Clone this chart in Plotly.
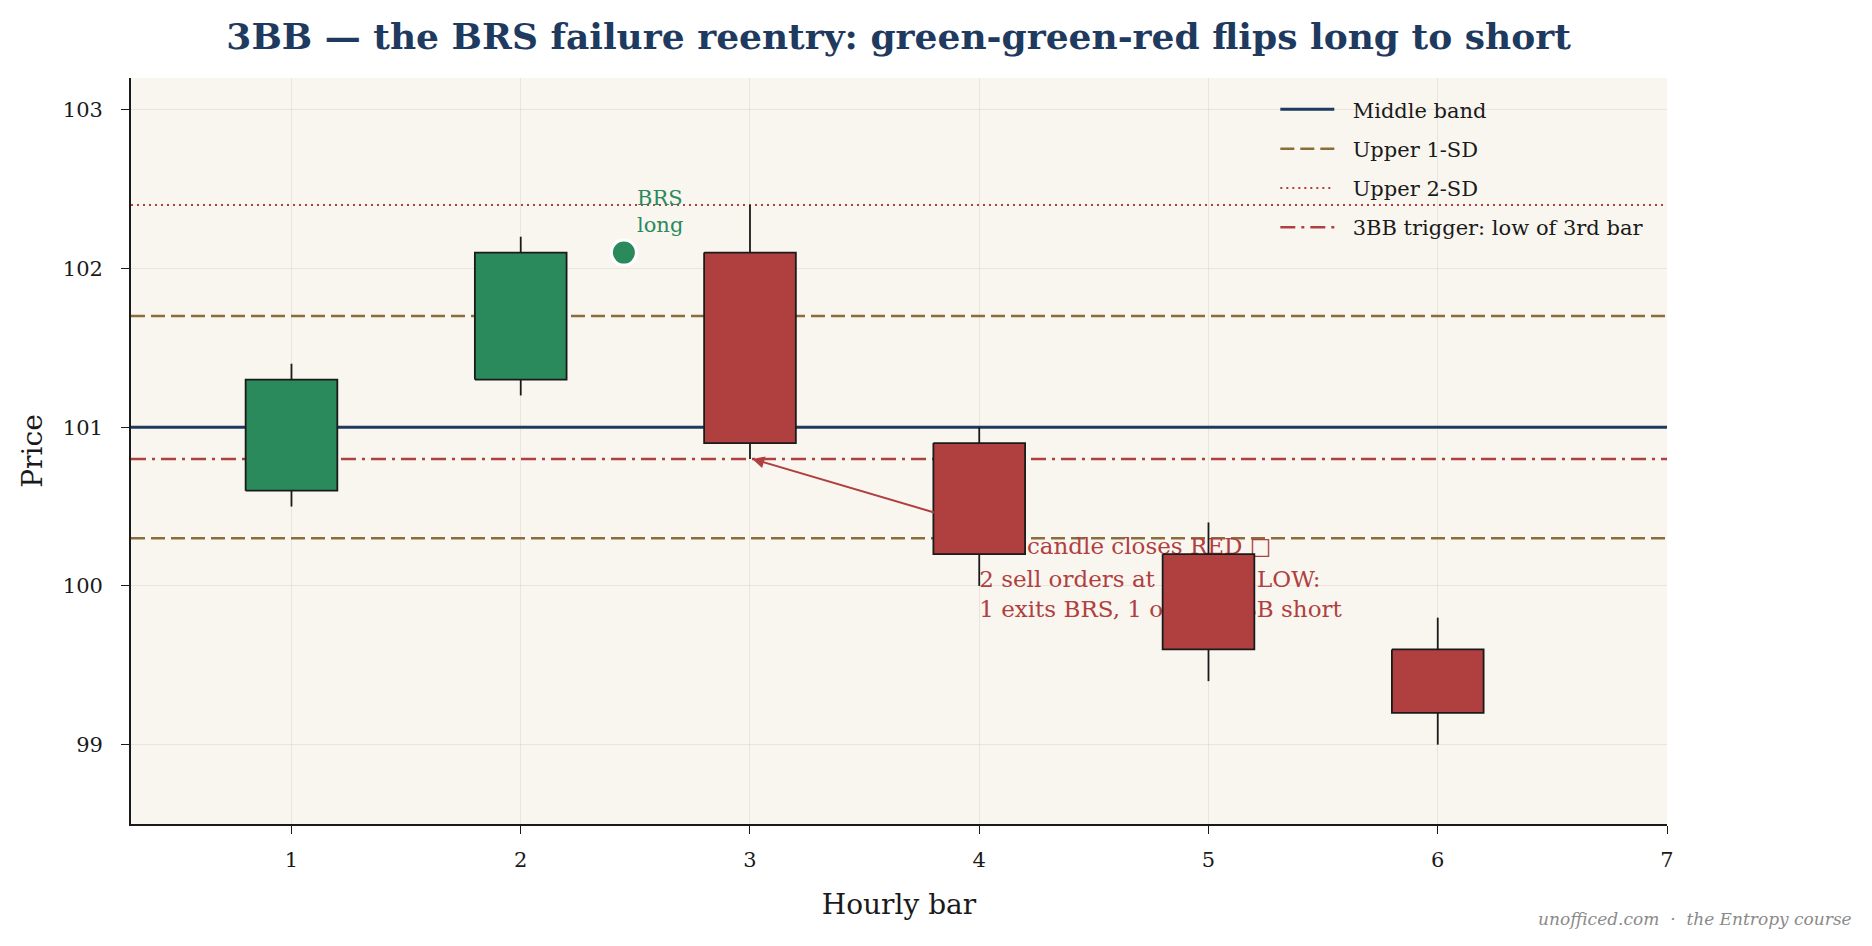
import plotly.graph_objects as go

bars = [1, 2, 3, 4, 5, 6]
opens = [100.6, 101.3, 102.1, 100.9, 100.2, 99.6]
closes = [101.3, 102.1, 100.9, 100.2, 99.6, 99.2]
highs = [101.4, 102.2, 102.4, 101.0, 100.4, 99.8]
lows = [100.5, 101.2, 100.8, 100.0, 99.4, 99.0]

middle_band = 101.0
upper_1sd = 101.7
lower_1sd = 100.3
upper_2sd = 102.4
trigger = 100.8

brs_x = [2.45]
brs_y = [102.1]

ann_lines = ["3rd candle closes RED \u25a1", "2 sell orders at 3rd-bar LOW:", "1 exits BRS, 1 opens 3BB short"]
ann_x = [4.0, 4.0, 4.0]
ann_y = [100.24, 100.03, 99.84]

legend_names = ["Middle band", "Upper 1-SD", "Upper 2-SD", "3BB trigger: low of 3rd bar"]

GREEN = "#2b8a5c"
RED = "#b04040"
NAVY = "#1f3a5f"
BROWN = "#8a6d3b"
FONT = "Georgia, 'DejaVu Serif', serif"
BODY_W = 0.4
PAD = "\u00a0\u00a0"

fig = go.Figure()

# band lines
xs = [0.3, 7.0]
fig.add_trace(go.Scatter(x=xs, y=[middle_band] * 2, mode="lines", name=PAD + legend_names[0], legendgroup="a",
                         line=dict(color=NAVY, width=3)))
fig.add_trace(go.Scatter(x=xs, y=[upper_1sd] * 2, mode="lines", name=PAD + legend_names[1], legendgroup="b",
                         line=dict(color=BROWN, width=2.5, dash="14px,6px")))
fig.add_trace(go.Scatter(x=xs, y=[lower_1sd] * 2, mode="lines", name="Lower 1-SD", showlegend=False,
                         legendgroup="b2", line=dict(color=BROWN, width=2.5, dash="14px,6px")))
fig.add_trace(go.Scatter(x=xs, y=[upper_2sd] * 2, mode="lines", name=PAD + legend_names[2], legendgroup="c",
                         line=dict(color=RED, width=2, dash="2px,4px")))
fig.add_trace(go.Scatter(x=xs, y=[trigger] * 2, mode="lines", name=PAD + legend_names[3],
                         legendgroup="d", line=dict(color=RED, width=2.5, dash="15px,6px,3px,6px")))

# annotation text, behind candles
fig.add_trace(go.Scatter(x=ann_x, y=ann_y, mode="text", text=ann_lines,
                         textposition="middle right", showlegend=False, hoverinfo="skip",
                         textfont=dict(family=FONT, size=23, color=RED)))

# wicks (outside bodies)
wx, wy = [], []
for b, o, c, h, l in zip(bars, opens, closes, highs, lows):
    top, bot = max(o, c), min(o, c)
    wx += [b, b, None, b, b, None]
    wy += [top, h, None, l, bot, None]
fig.add_trace(go.Scatter(x=wx, y=wy, mode="lines", line=dict(color="#1a1a1a", width=1.8),
                         showlegend=False, hoverinfo="skip"))

# bodies as filled polygons
for b, o, c in zip(bars, opens, closes):
    col = GREEN if c >= o else RED
    x0, x1 = b - BODY_W / 2, b + BODY_W / 2
    fig.add_trace(go.Scatter(x=[x0, x1, x1, x0, x0], y=[o, o, c, c, o], mode="lines",
                             fill="toself", fillcolor=col, line=dict(color="#1a1a1a", width=1.8),
                             showlegend=False, hoverinfo="skip"))

# BRS marker
fig.add_trace(go.Scatter(x=brs_x, y=brs_y, mode="markers", showlegend=False,
                         marker=dict(size=25, color=GREEN, line=dict(color="white", width=3))))

fig.add_annotation(x=2.5, y=102.36, text="BRS<br>long", showarrow=False, xanchor="left",
                   yanchor="middle", align="left", font=dict(family=FONT, size=21, color=GREEN))

fig.add_annotation(x=3.01, y=100.8, ax=3.81, ay=100.46, axref="x", ayref="y", text="",
                   showarrow=True, arrowhead=2, arrowsize=1.2, arrowwidth=2, arrowcolor=RED)

fig.add_annotation(x=1.0, y=0.0, xref="paper", yref="paper", xanchor="right", yanchor="top",
                   text="<i>unofficed.com  \u00b7  the Entropy course</i>", showarrow=False,
                   font=dict(family=FONT, size=17, color="#8a8a8a"), xshift=187, yshift=-83)

fig.update_layout(
    width=1872, height=946,
    margin=dict(l=131, r=205, t=78, b=122),
    paper_bgcolor="white", plot_bgcolor="#f9f6f0",
    font=dict(family=FONT, color="#1a1a1a"),
    title=dict(text="<b>3BB \u2014 the BRS failure reentry: green-green-red flips long to short</b>",
               x=0.48, xanchor="center", y=0.962, yanchor="middle",
               font=dict(family=FONT, size=36, color=NAVY)),
    legend=dict(x=0.745, y=0.985, xanchor="left", yanchor="top", bgcolor="rgba(0,0,0,0)",
                font=dict(family=FONT, size=21, color="#1a1a1a"), itemwidth=54,
                tracegroupgap=9),
    showlegend=True,
)
fig.update_xaxes(range=[0.3, 7.0], tickvals=[1, 2, 3, 4, 5, 6, 7], showgrid=True,
                 gridcolor="rgba(200,190,175,0.3)", showline=True, linecolor="#1a1a1a", linewidth=1.8,
                 ticks="outside", ticklen=8, tickwidth=1.3, tickcolor="#1a1a1a", zeroline=False,
                 tickfont=dict(size=21), ticklabelstandoff=8,
                 title=dict(text="Hourly bar", font=dict(size=28), standoff=23),
                 layer="above traces")
fig.update_yaxes(range=[98.5, 103.2], tickvals=[99, 100, 101, 102, 103], showgrid=True,
                 gridcolor="rgba(200,190,175,0.3)", showline=True, linecolor="#1a1a1a", linewidth=1.8,
                 ticks="outside", ticklen=8, tickwidth=1.3, tickcolor="#1a1a1a", zeroline=False,
                 tickfont=dict(size=21), ticklabelstandoff=14,
                 title=dict(text="Price", font=dict(size=28), standoff=12),
                 layer="above traces")

fig.write_html("out.html")
